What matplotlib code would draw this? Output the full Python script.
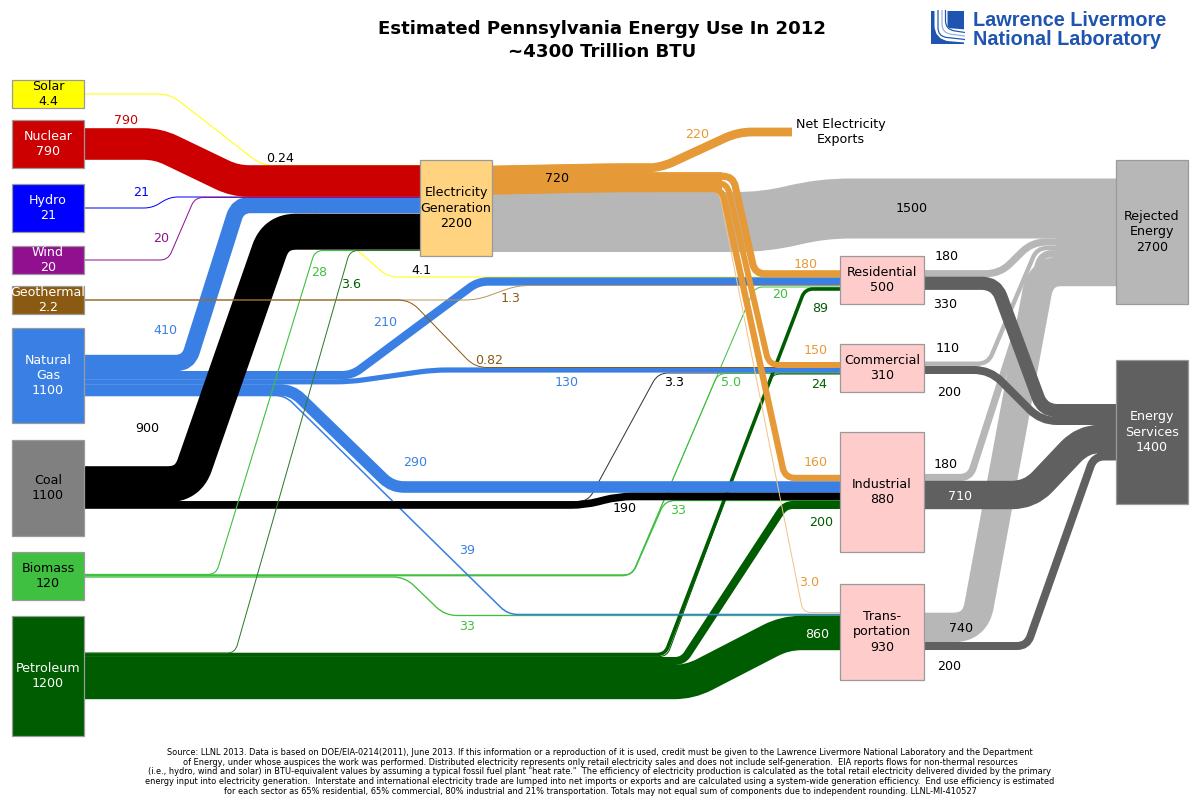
import matplotlib
matplotlib.use("Agg")
import matplotlib.pyplot as plt
from matplotlib.patches import PathPatch, Rectangle
from matplotlib.path import Path

# Values in trillion BTU, kept as text because the chart prints them this way
source_names = ["Solar", "Nuclear", "Hydro", "Wind", "Geothermal", "Natural\nGas", "Coal", "Biomass", "Petroleum"]
source_totals = ["4.4", "790", "21", "20", "2.2", "1100", "1100", "120", "1200"]
sector_names = ["Residential", "Commercial", "Industrial", "Trans-\nportation"]
sector_totals = ["500", "310", "880", "930"]
sector_rejected = ["180", "110", "180", "740"]
sector_services = ["330", "200", "710", "200"]
elec_total = "2200"
elec_in = {"solar": "0.24", "nuclear": "790", "hydro": "21", "wind": "20", "gas": "410", "coal": "900", "biomass": "28", "petroleum": "3.6"}
elec_out = ["180", "150", "160", "3.0"]  # res, com, ind, trans
elec_exports = "220"
elec_delivered = "720"
elec_rejected = "1500"
gas_out = ["210", "130", "290", "39"]
coal_out = ["3.3", "190"]
solar_res = "4.1"
geo_out = ["1.3", "0.82"]
biomass_out = ["20", "5.0", "33", "33"]
petroleum_out = ["89", "24", "200", "860"]
rejected_total = "2700"
services_total = "1400"

SOLAR = "#ffff00"
NUCLEAR = "#cc0000"
HYDRO = "#0000ff"
WIND = "#901090"
GEO = "#8b5a12"
GAS = "#3a80e4"
COAL = "#000000"
BIOMASS = "#40c040"
PETRO = "#005c00"
ELEC = "#e59a37"
REJECT = "#b7b7b7"
SERVICE = "#606060"
FONT_SIZE = 9.1

PX_PER_UNIT = 0.04


def total(values):
    return sum(float(v) for v in values)


def rounded(points, r):
    verts = [points[0]]
    codes = [Path.MOVETO]
    for i in range(1, len(points) - 1):
        x0, y0 = points[i - 1]
        x1, y1 = points[i]
        x2, y2 = points[i + 1]
        d1 = ((x1 - x0) ** 2 + (y1 - y0) ** 2) ** 0.5
        d2 = ((x2 - x1) ** 2 + (y2 - y1) ** 2) ** 0.5
        a = min(r, d1 / 2) / d1
        b = min(r, d2 / 2) / d2
        verts.append((x1 - (x1 - x0) * a, y1 - (y1 - y0) * a))
        codes.append(Path.LINETO)
        verts.append((x1, y1))
        codes.append(Path.CURVE3)
        verts.append((x1 + (x2 - x1) * b, y1 + (y2 - y1) * b))
        codes.append(Path.CURVE3)
    verts.append(points[-1])
    codes.append(Path.LINETO)
    return Path(verts, codes)


def flow(value, color, points, r=None):
    w = max(float(value) * PX_PER_UNIT, 1.0)
    if r is None:
        r = max(10, w * 0.9)
    ax.add_patch(PathPatch(rounded(points, r), fill=False, edgecolor=color, lw=w * 0.72,
                           capstyle="butt", joinstyle="round", zorder=2))


def box(x0, y0, x1, y1, color, text, text_color="black"):
    ax.add_patch(Rectangle((x0, y0), x1 - x0, y1 - y0, facecolor=color, edgecolor="#9a9a9a", lw=0.9, zorder=3))
    ax.text((x0 + x1) / 2, (y0 + y1) / 2, text, color=text_color, fontsize=FONT_SIZE, ha="center", va="center",
            linespacing=1.25, zorder=4)


def label(text, x, y, color="black"):
    ax.text(x, y, text, color=color, fontsize=FONT_SIZE, ha="center", va="center", zorder=5)


fig = plt.figure(figsize=(12, 8), dpi=100)
ax = fig.add_axes([0, 0, 1, 1])
ax.set_xlim(0, 1200)
ax.set_ylim(800, 0)
ax.axis("off")

# rejected and services, right side
flow(elec_rejected, REJECT, [(492, 222), (765, 222), (822, 208.5), (1116, 208.5)], 28)
flow(sector_rejected[3], REJECT, [(924, 627.5), (975, 627.5), (1041, 271), (1116, 271)], 22)
flow(sector_rejected[2], REJECT, [(924, 477.5), (970, 477.5), (1042, 253.7), (1116, 253.7)], 10)
flow(sector_rejected[1], REJECT, [(924, 363.7), (988, 363.7), (1037, 248), (1116, 248)], 10)
flow(sector_rejected[0], REJECT, [(924, 273.7), (1000, 273.7), (1032, 242), (1116, 242)], 14)
flow(total(sector_rejected), REJECT, [(1056, 262), (1116, 262)])
flow(sector_services[0], SERVICE, [(924, 283.3), (996, 283.3), (1043, 410.6), (1116, 410.6)], 14)
flow(sector_services[1], SERVICE, [(924, 370), (990, 370), (1041, 421), (1116, 421)], 16)
flow(sector_services[2], SERVICE, [(924, 495), (1030, 495), (1083, 439), (1116, 439)], 18)
flow(sector_services[3], SERVICE, [(924, 646), (1027, 646), (1094, 456.5), (1116, 456.5)], 10)
flow(services_total, SERVICE, [(1097, 432), (1116, 432)])

# thin flows that pass under the heavy ones
flow(solar_res, SOLAR, [(262, 166), (357, 250), (388, 277), (840, 277)], 10)
flow(elec_in["solar"], SOLAR, [(84, 94), (170, 94), (262, 165.5), (420, 165.5)], 12)
flow(coal_out[0], "#333333", [(84, 501.5), (588, 501.5), (658, 373), (840, 373)], 10)
flow(biomass_out[0], BIOMASS, [(84, 575), (632, 575), (755, 287), (840, 287)], 8)
flow(biomass_out[1], BIOMASS, [(84, 575), (632, 575), (718, 373.5), (840, 373.5)], 8)
flow(biomass_out[2], BIOMASS, [(84, 575.7), (632, 575.7), (665, 500.5), (840, 500.5)], 10)
flow(biomass_out[3], BIOMASS, [(84, 577), (405, 577), (445, 615.5), (840, 615.5)], 12)

# petroleum
flow(petroleum_out[3], PETRO, [(84, 682), (690, 682), (785, 633), (840, 633)], 16)
flow(petroleum_out[2], PETRO, [(84, 661), (683, 661), (785, 505), (840, 505)], 8)
flow(petroleum_out[0], PETRO, [(84, 654.5), (665, 654.5), (805, 289), (840, 289)], 8)
flow(petroleum_out[1], PETRO, [(84, 656.6), (667, 656.6), (772, 374), (840, 374)], 8)

# natural gas
flow(gas_out[3], GAS, [(84, 395.5), (285, 395.5), (508, 614.5), (840, 614.5)], 10)
flow(elec_in["gas"], GAS, [(84, 363), (188, 363), (238, 205), (420, 205)], 12)
flow(gas_out[0], GAS, [(84, 375.2), (352, 375.2), (478, 281.5), (840, 281.5)], 10)
flow(gas_out[1], GAS, [(84, 381.8), (350, 381.8), (433, 370), (840, 370)], 14)
flow(gas_out[2], GAS, [(84, 390), (292, 390), (392, 487), (840, 487)], 12)

# coal
flow(elec_in["coal"], COAL, [(84, 484.2), (188, 484.2), (276, 231.7), (420, 231.7)], 20)
flow(coal_out[1], COAL, [(84, 505), (585, 505), (618, 496.5), (840, 496.5)], 14)

# thin lines drawn over coal
flow(elec_in["biomass"], BIOMASS, [(84, 574.4), (216, 574.4), (315, 250.5), (420, 250.5)], 8)
flow(elec_in["petroleum"], "#2f7a2f", [(84, 653), (235, 653), (350, 250.5), (420, 250.5)], 8)
flow(geo_out[0], "#b9975f", [(84, 300), (477, 300), (517, 285.5), (840, 285.5)], 12)
flow(geo_out[1], GEO, [(84, 300), (410, 300), (475, 367.5), (840, 367.5)], 12)
flow(elec_out[3], "#f0c48a", [(492, 193), (610, 191.5), (719, 191.5), (803, 612.5), (840, 612.5)], 8)

# electricity
flow(elec_exports, ELEC, [(492, 170.4), (610, 168), (660, 168), (738, 132), (792, 132)], 14)
flow(elec_out[0], ELEC, [(492, 178.6), (610, 176.3), (733, 176.3), (755, 273.8), (840, 273.8)], 10)
flow(elec_out[1], ELEC, [(492, 185.2), (610, 182.9), (727, 182.9), (769, 365), (840, 365)], 10)
flow(elec_out[2], ELEC, [(492, 191.5), (610, 189), (722, 189), (785, 478), (840, 478)], 10)
flow(elec_delivered, ELEC, [(492, 180), (610, 177.7), (650, 177.7)])
flow(total(elec_out), ELEC, [(640, 182.3), (722, 182.3)])

# electricity inputs on top
flow(elec_in["hydro"], HYDRO, [(84, 208), (152, 208), (170, 197), (420, 197)], 8)
flow(elec_in["nuclear"], NUCLEAR, [(84, 144), (158, 144), (235, 181), (420, 181)], 14)
flow(elec_in["wind"], WIND, [(84, 260), (168, 260), (195, 197.5), (420, 197.5)], 8)

# boxes on the left
left_x = (12, 84)
source_y = [(80, 108), (120, 168), (184, 232), (246, 274), (286, 314), (328, 423), (440, 536), (552, 600), (616, 736)]
source_fill = [SOLAR, NUCLEAR, HYDRO, WIND, GEO, GAS, "#808080", BIOMASS, PETRO]
source_text = ["black", "white", "white", "white", "white", "white", "black", "black", "white"]
for i in range(len(source_names)):
    box(left_x[0], source_y[i][0], left_x[1], source_y[i][1], source_fill[i],
        source_names[i] + "\n" + source_totals[i], source_text[i])

box(420, 160, 492, 256, "#ffd37f", "Electricity\nGeneration\n" + elec_total)

sector_y = [(256, 304), (344, 392), (432, 552), (584, 680)]
for i in range(len(sector_names)):
    box(840, sector_y[i][0], 924, sector_y[i][1], "#ffcccc", sector_names[i] + "\n" + sector_totals[i])

box(1116, 160, 1188, 304, REJECT, "Rejected\nEnergy\n" + rejected_total)
box(1116, 360, 1188, 504, SERVICE, "Energy\nServices\n" + services_total, "white")

# flow labels
label(elec_in["nuclear"], 126, 121, NUCLEAR)
label(elec_in["hydro"], 141, 193, HYDRO)
label(elec_in["wind"], 161, 239, WIND)
label(elec_in["gas"], 165, 331, GAS)
label(elec_in["coal"], 147, 428)
label(elec_in["solar"], 280, 158)
label(solar_res, 421, 271)
label(elec_in["biomass"], 319, 272, BIOMASS)
label(elec_in["petroleum"], 351, 285, PETRO)
label(gas_out[0], 385, 322, GAS)
label(geo_out[0], 511, 299, GEO)
label(geo_out[1], 489, 360, GEO)
label(gas_out[1], 567, 383, GAS)
label(coal_out[0], 674, 382)
label(biomass_out[1], 731, 383, BIOMASS)
label(biomass_out[0], 780, 295, BIOMASS)
label(petroleum_out[0], 820, 308, PETRO)
label(petroleum_out[1], 819, 384, PETRO)
label(elec_out[0], 806, 264, ELEC)
label(elec_out[1], 816, 350, ELEC)
label(elec_out[2], 816, 462, ELEC)
label(gas_out[2], 415, 463, GAS)
label(coal_out[1], 625, 508)
label(biomass_out[2], 678, 511, BIOMASS)
label(petroleum_out[2], 821, 523, PETRO)
label(gas_out[3], 467, 551, GAS)
label(biomass_out[3], 467, 627, BIOMASS)
label(elec_out[3], 809, 582, ELEC)
label(petroleum_out[3], 817, 635, "white")
label(elec_delivered, 557, 179)
label(elec_exports, 697, 135, ELEC)
label(elec_rejected, 912, 208)
label(sector_rejected[0], 947, 257)
label(sector_services[0], 945, 304)
label(sector_rejected[1], 948, 349)
label(sector_services[1], 949, 392)
label(sector_rejected[2], 946, 465)
label(sector_services[2], 960, 496, "white")
label(sector_rejected[3], 961, 629)
label(sector_services[3], 949, 667)
ax.text(841, 132, "Net Electricity\nExports", fontsize=FONT_SIZE, ha="center", va="center", linespacing=1.25, zorder=5)

# title
ax.text(602, 29, "Estimated Pennsylvania Energy Use In 2012", fontsize=13.1, fontweight="bold", ha="center", va="center", zorder=5)
ax.text(602, 52, "~4300 Trillion BTU", fontsize=13.1, fontweight="bold", ha="center", va="center", zorder=5)

# logo
LOGO = "#1f55b0"
ax.add_patch(Rectangle((931, 11), 33, 33, facecolor=LOGO, edgecolor="none", zorder=5))
for x, y, w, c in [(941, 34, 13, "white"), (938, 36.5, 1.2, LOGO), (942, 33, 1.2, "#8fb0e0"), (945.5, 29.5, 1.2, LOGO)]:
    p = rounded([(x, 10), (x, y), (965, y + 2 if w > 2 else y + 3)], 9)
    ax.add_patch(PathPatch(p, fill=False, edgecolor=c, lw=w * 0.72, capstyle="butt", zorder=6))
ax.text(973, 20.5, "Lawrence Livermore", family="Liberation Sans", fontweight="bold", fontsize=14.3, color=LOGO, va="center", ha="left", zorder=5)
ax.text(973, 39.5, "National Laboratory", family="Liberation Sans", fontweight="bold", fontsize=14.3, color=LOGO, va="center", ha="left", zorder=5)

# source note
footer = [
    "Source: LLNL 2013. Data is based on DOE/EIA-0214(2011), June 2013. If this information or a reproduction of it is used, credit must be given to the Lawrence Livermore National Laboratory and the Department",
    "of Energy, under whose auspices the work was performed. Distributed electricity represents only retail electricity sales and does not include self-generation.  EIA reports flows for non-thermal resources",
    "(i.e., hydro, wind and solar) in BTU-equivalent values by assuming a typical fossil fuel plant \"heat rate.\"  The efficiency of electricity production is calculated as the total retail electricity delivered divided by the primary",
    "energy input into electricity generation.  Interstate and international electricity trade are lumped into net imports or exports and are calculated using a system-wide generation efficiency.  End use efficiency is estimated",
    "for each sector as 65% residential, 65% commercial, 80% industrial and 21% transportation. Totals may not equal sum of components due to independent rounding. LLNL-MI-410527",
]
for i, line in enumerate(footer):
    ax.text(600, 752.5 + i * 9.7, line, fontsize=5.95, ha="center", va="center", zorder=5)

fig.savefig("out.png", dpi=100)
